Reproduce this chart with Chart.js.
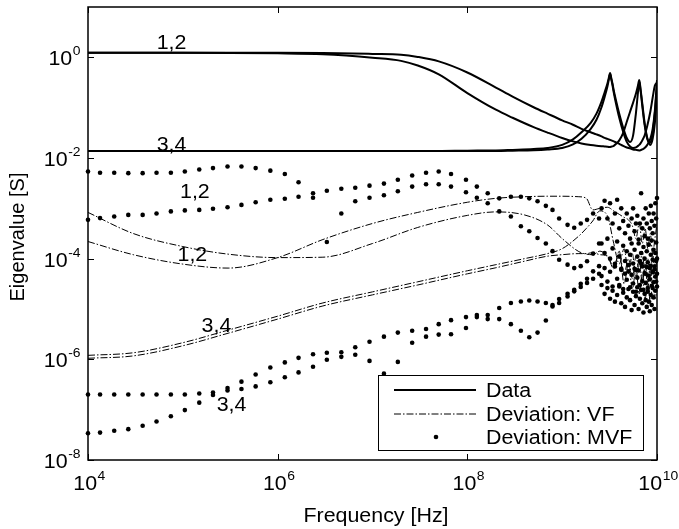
<!DOCTYPE html>
<html>
<head>
<meta charset="utf-8">
<script src="https://cdn.jsdelivr.net/npm/chart.js@4.4.1/dist/chart.umd.min.js"></script>
<style>
  body { margin: 0; background: #fff; }
  #wrap { width: 679px; height: 529px; }
</style>
</head>
<body>
<div id="wrap"><canvas id="eigChart" width="679" height="529"></canvas></div>
<script>
// frequency samples of the measured data (Hz)
const dataFreq = [1e4, 1e5, 1e6, 3e6, 1e7, 2e7, 3e7, 5e7, 1e8, 2e8, 3e8, 5e8, 7e8, 1e9, 1.3e9, 1.6e9,
  2e9, 2.3e9, 2.6e9, 2.8e9, 3.0e9, 3.1e9, 3.2e9, 3.3e9, 3.4e9, 3.5e9, 3.7e9, 4.0e9, 4.4e9, 4.8e9,
  5.2e9, 5.6e9, 6.0e9, 6.3e9, 6.5e9, 6.7e9, 7.0e9, 7.4e9, 7.9e9, 8.5e9, 9.0e9, 9.5e9, 1e10];

// eigenvalues 1,2 and 3,4 of the data (S)
const data1 = [1.23, 1.23, 1.20, 1.15, 0.98, 0.85, 0.69, 0.46, 0.195, 0.091, 0.063, 0.041, 0.032, 0.025, 0.0214, 0.0195,
  0.0182, 0.0176, 0.0172, 0.0170, 0.0168, 0.0166, 0.0166, 0.0168, 0.0170, 0.0174, 0.0191, 0.0224, 0.0316, 0.0525,
  0.083, 0.126, 0.191, 0.275, 0.355, 0.240, 0.120, 0.050, 0.025, 0.0182, 0.024, 0.050, 0.200];
const data2 = [1.23, 1.23, 1.23, 1.22, 1.17, 1.13, 1.02, 0.83, 0.50, 0.251, 0.166, 0.102, 0.076, 0.056, 0.0457, 0.038,
  0.0324, 0.0295, 0.0269, 0.0251, 0.024, 0.0234, 0.0229, 0.0224, 0.0219, 0.0214, 0.0204, 0.0191, 0.0174, 0.0162,
  0.0155, 0.0148, 0.0145, 0.0143, 0.0141, 0.0143, 0.0148, 0.0158, 0.0182, 0.024, 0.038, 0.089, 0.355];
const data3 = [0.0138, 0.0138, 0.0138, 0.0138, 0.0138, 0.0138, 0.0138, 0.0138, 0.0140, 0.0141, 0.0145, 0.0151, 0.0158, 0.0182, 0.0234, 0.0324,
  0.050, 0.076, 0.132, 0.200, 0.302, 0.389, 0.490, 0.380, 0.295, 0.219, 0.138, 0.076, 0.040, 0.025,
  0.0209, 0.0282, 0.079, 0.200, 0.331, 0.224, 0.107, 0.0457, 0.024, 0.020, 0.0316, 0.079, 0.282];
const data4 = [0.0138, 0.0138, 0.0138, 0.0138, 0.0138, 0.0138, 0.0138, 0.0138, 0.0138, 0.0138, 0.0140, 0.0143, 0.0148, 0.0158, 0.0186, 0.024,
  0.038, 0.0575, 0.102, 0.162, 0.263, 0.355, 0.468, 0.363, 0.275, 0.200, 0.120, 0.063, 0.033, 0.0209,
  0.0170, 0.0158, 0.0162, 0.0174, 0.0182, 0.0195, 0.0224, 0.028, 0.0437, 0.083, 0.158, 0.275, 0.316];

// deviation of the VF fit
const vfFreq = [1e4, 3e4, 1e5, 3e5, 1e6, 3e6, 1e7, 3e7, 1e8, 2e8, 4e8, 7e8, 1e9, 1.5e9, 1.8e9, 2.1e9,
  2.5e9, 3e9, 3.5e9, 4e9, 4.5e9, 5e9, 5.5e9, 6e9, 6.5e9, 7e9, 7.5e9, 8e9, 8.5e9, 9e9, 9.5e9, 1e10];
const vf1 = [8.3e-4, 3.16e-4, 1.74e-4, 1.23e-4, 1.05e-4, 1.07e-4, 2.0e-4, 4.17e-4, 7.24e-4, 8.5e-4, 7.4e-4, 4.68e-4, 2.51e-4, 1.38e-4, 1.23e-4, 1.20e-4,
  1.41e-4, 1.12e-4, 7.1e-5, 1.26e-4, 5.0e-5, 1.0e-4, 4.0e-5, 1.12e-4, 5.6e-5, 1.41e-4, 4.5e-5, 1.0e-4, 3.5e-5, 1.26e-4, 5.0e-5, 1.12e-4];
const vf2 = [2.19e-4, 1.20e-4, 7.8e-5, 6.5e-5, 1.05e-4, 2.4e-4, 5.0e-4, 8.3e-4, 1.32e-3, 1.58e-3, 1.70e-3, 1.74e-3, 1.74e-3, 1.70e-3, 1.58e-3, 9.3e-4,
  1.0e-3, 1.05e-3, 8.9e-4, 7.6e-4, 6.6e-4, 5.9e-4, 4.5e-4, 2.5e-4, 5.0e-4, 2.0e-4, 4.0e-4, 1.58e-4, 3.16e-4, 1.26e-4, 2.5e-4, 5.0e-4];
const vf3 = [1.20e-6, 1.35e-6, 2.14e-6, 3.8e-6, 7.2e-6, 1.32e-5, 2.19e-5, 3.47e-5, 5.75e-5, 7.6e-5, 1.0e-4, 1.26e-4, 1.58e-4, 2.82e-4, 4.0e-4, 5.6e-4,
  8.9e-4, 7.1e-4, 2.0e-4, 7.9e-5, 1.58e-4, 5.0e-5, 1.26e-4, 4.0e-5, 1.0e-4, 3.16e-5, 7.9e-5, 2.5e-5, 6.3e-5, 3.16e-5, 1.0e-4, 4.0e-5];
const vf4 = [1.05e-6, 1.17e-6, 1.86e-6, 3.3e-6, 6.3e-6, 1.15e-5, 1.91e-5, 3.0e-5, 5.0e-5, 6.6e-5, 8.9e-5, 1.12e-4, 1.20e-4, 1.26e-4, 1.26e-4, 1.32e-4,
  1.20e-4, 1.12e-4, 6.3e-5, 1.41e-4, 3.16e-5, 7.9e-5, 2.5e-5, 6.3e-5, 2.0e-5, 5.0e-5, 1.58e-5, 4.0e-5, 1.26e-5, 3.16e-5, 1.58e-5, 2.5e-5];

// deviation of the MVF fit, one dot per sample
const mvfFreq = [1.0e4, 1.34e4, 1.89e4, 2.66e4, 3.77e4, 5.28e4, 7.48e4, 1.05e5, 1.49e5, 2.08e5, 2.96e5, 4.15e5, 5.86e5, 8.37e5,
  1.19e6, 1.66e6, 2.36e6, 3.30e6, 4.69e6, 6.58e6, 9.30e6, 1.32e7, 1.85e7, 2.62e7, 3.67e7, 4.99e7, 6.73e7, 9.68e7,
  1.26e8, 1.64e8, 2.17e8, 2.88e8, 3.67e8, 4.50e8, 5.50e8, 6.73e8, 7.91e8, 9.29e8, 1.14e9, 1.34e9, 1.57e9, 1.83e9, 2.12e9, 2.45e9,
  2.6e9, 2.8e9, 3.0e9, 3.2e9, 3.4e9, 3.6e9, 3.8e9, 4.0e9, 4.2e9, 4.4e9, 4.6e9, 4.8e9, 5.0e9, 5.2e9, 5.4e9, 5.6e9, 5.8e9, 6.0e9, 6.2e9,
  6.4e9, 6.6e9, 6.8e9, 7.0e9, 7.2e9, 7.4e9, 7.6e9, 7.8e9, 8.0e9, 8.2e9, 8.4e9, 8.6e9, 8.8e9, 9.0e9, 9.2e9, 9.4e9, 9.6e9, 9.8e9, 1.0e10];
const mvf1 = [5.4e-3, 5.1e-3, 5.1e-3, 5.0e-3, 5.0e-3, 5.1e-3, 5.1e-3, 5.4e-3, 5.9e-3, 6.3e-3, 6.8e-3, 6.8e-3, 6.3e-3, 5.6e-3,
  4.8e-3, 3.3e-3, 2.0e-3, 2.24e-3, 2.45e-3, 2.57e-3, 2.82e-3, 3.1e-3, 3.7e-3, 4.5e-3, 5.1e-3, 5.4e-3, 4.8e-3, 3.7e-3,
  2.7e-3, 2.0e-3, 1.58e-3, 1.70e-3, 1.70e-3, 1.58e-3, 1.38e-3, 1.12e-3, 9.3e-4, 6.3e-4, 4.7e-4, 4.1e-4, 5.0e-4, 5.9e-4, 7.9e-4, 6.3e-4,
  1.0e-3, 1.41e-3, 6.3e-4, 1.26e-3, 5.0e-4, 7.9e-4, 1.48e-3, 4.0e-4, 1.0e-3, 5.6e-4, 3.2e-4, 7.9e-4, 4.5e-4, 2.5e-4, 6.3e-4, 1.0e-3, 3.5e-4, 5.0e-4, 7.1e-4,
  2.0e-4, 5.0e-4, 2.0e-3, 4.0e-4, 6.3e-4, 2.8e-4, 1.0e-3, 5.0e-4, 2.5e-4, 7.9e-4, 4.0e-4, 1.12e-3, 5.6e-4, 3.2e-4, 7.9e-4, 4.5e-4, 1.26e-3, 6.3e-4, 1.6e-3];
const mvf2 = [5.9e-4, 6.4e-4, 6.9e-4, 7.4e-4, 7.4e-4, 7.9e-4, 8.7e-4, 9.1e-4, 9.3e-4, 9.8e-4, 1.05e-3, 1.17e-3, 1.32e-3, 1.48e-3,
  1.55e-3, 1.70e-3, 1.62e-3, 2.14e-4, 7.9e-4, 1.38e-3, 1.62e-3, 1.82e-3, 2.19e-3, 2.7e-3, 3.0e-3, 3.0e-3, 2.7e-3, 2.09e-3,
  1.62e-3, 1.26e-3, 8.7e-4, 6.9e-4, 4.4e-4, 3.5e-4, 2.57e-4, 2.0e-4, 1.41e-4, 9.5e-5, 7.6e-5, 6.5e-5, 7.1e-5, 8.9e-5, 1.26e-4, 2.0e-4,
  2.0e-4, 1.3e-4, 2.5e-4, 1.0e-4, 1.6e-4, 7.9e-5, 2.2e-4, 1.1e-4, 6.3e-5, 1.8e-4, 9.0e-5, 1.4e-4, 5.6e-5, 1.2e-4, 2.0e-4, 8.0e-5, 1.5e-4, 6.0e-5, 1.1e-4,
  2.4e-4, 9.0e-5, 1.3e-4, 7.0e-5, 1.7e-4, 1.0e-4, 5.0e-5, 1.4e-4, 8.5e-5, 1.9e-4, 6.5e-5, 1.2e-4, 2.3e-4, 9.5e-5, 1.5e-4, 7.0e-5, 1.3e-4, 2.1e-4, 1.0e-4];
const mvf3 = [2.0e-7, 2.0e-7, 2.0e-7, 2.0e-7, 2.0e-7, 2.0e-7, 2.0e-7, 2.0e-7, 2.1e-7, 2.2e-7, 2.7e-7, 3.6e-7, 5.0e-7, 6.9e-7,
  8.7e-7, 1.07e-6, 1.26e-6, 1.35e-6, 1.38e-6, 1.74e-6, 2.24e-6, 2.82e-6, 3.4e-6, 3.7e-6, 4.0e-6, 5.0e-6, 6.0e-6, 6.9e-6,
  7.6e-6, 7.6e-6, 1.05e-5, 1.32e-5, 1.41e-5, 1.48e-5, 1.41e-5, 1.32e-5, 1.20e-5, 1.32e-5, 1.78e-5, 2.24e-5, 3.16e-5, 4.0e-5, 5.6e-5, 7.1e-5,
  4.5e-5, 6.5e-5, 3.5e-5, 5.5e-5, 2.8e-5, 7.0e-5, 4.0e-5, 3.0e-5, 6.0e-5, 2.5e-5, 5.0e-5, 3.8e-5, 7.5e-5, 2.7e-5, 4.8e-5, 3.2e-5, 6.3e-5, 2.2e-5, 4.2e-5,
  5.8e-5, 3.0e-5, 8.0e-5, 3.6e-5, 2.4e-5, 5.2e-5, 3.3e-5, 6.8e-5, 2.6e-5, 4.6e-5, 3.9e-5, 7.2e-5, 2.9e-5, 5.4e-5, 3.4e-5, 6.1e-5, 4.4e-5, 9.0e-5, 5.0e-5];
const mvf4 = [3.4e-8, 3.5e-8, 3.8e-8, 4.1e-8, 4.8e-8, 5.8e-8, 7.4e-8, 9.8e-8, 1.38e-7, 1.95e-7, 2.4e-7, 2.57e-7, 2.9e-7, 3.5e-7,
  4.4e-7, 5.5e-7, 7.1e-7, 9.8e-7, 1.12e-6, 1.23e-6, 9.3e-7, 5.2e-7, 8.9e-7, 2.14e-6, 2.82e-6, 3.1e-6, 3.16e-6, 4.2e-6,
  6.9e-6, 6.3e-6, 6.3e-6, 5.0e-6, 3.7e-6, 2.75e-6, 3.4e-6, 5.9e-6, 1.12e-5, 1.58e-5, 2.0e-5, 2.4e-5, 2.75e-5, 3.3e-5, 4.0e-5, 5.0e-5,
  3.0e-5, 2.0e-5, 2.6e-5, 1.6e-5, 2.3e-5, 1.4e-5, 1.9e-5, 2.8e-5, 1.3e-5, 2.1e-5, 1.1e-5, 1.7e-5, 2.5e-5, 1.5e-5, 9.5e-6, 2.2e-5, 1.2e-5, 1.8e-5, 2.7e-5,
  1.0e-5, 1.6e-5, 2.4e-5, 1.3e-5, 8.5e-6, 2.0e-5, 1.5e-5, 1.1e-5, 2.2e-5, 1.4e-5, 9.0e-6, 1.9e-5, 1.2e-5, 2.6e-5, 1.7e-5, 1.0e-5, 2.3e-5, 3.5e-5, 2.8e-5];

// axis ticks and curve labels
const xTicks = [1e4, 1e6, 1e8, 1e10];
const xTickExp = ['4', '6', '8', '10'];
const yTicks = [1, 1e-2, 1e-4, 1e-6, 1e-8];
const yTickExp = ['0', '-2', '-4', '-6', '-8'];
const labelText = ['1,2', '3,4', '1,2', '1,2', '3,4', '3,4'];
const labelFreq = [7.6e4, 7.6e4, 1.34e5, 1.26e5, 2.26e5, 3.26e5];
const labelValue = [2.0, 1.87e-2, 2.25e-3, 1.23e-4, 4.83e-6, 1.27e-7];
const legendItems = ['Data', 'Deviation: VF', 'Deviation: MVF'];

const FONT = '"Liberation Sans", Arial, sans-serif';
const VF_DASH = [7, 2, 1.5, 2];
const STRETCH = 1.07; // the source figure is a little wider than tall

function pairs(xs, ys) {
    return xs.map((x, i) => ({ x: x, y: ys[i] }));
}

function dataLine(ys) {
    return { data: pairs(dataFreq, ys), showLine: true, borderColor: '#000', borderWidth: 2,
        pointRadius: 0, cubicInterpolationMode: 'monotone' };
}

function vfLine(ys) {
    return { data: pairs(vfFreq, ys), showLine: true, borderColor: '#000', borderWidth: 1,
        borderDash: VF_DASH, pointRadius: 0, cubicInterpolationMode: 'monotone' };
}

function mvfDots(ys) {
    return { data: pairs(mvfFreq, ys), showLine: false, pointRadius: 2.3, pointBorderWidth: 0,
        pointBackgroundColor: '#000', clip: false };
}

function measure(ctx, t, size) {
    ctx.font = size + 'px ' + FONT;
    return ctx.measureText(t).width * STRETCH;
}

// text drawn from its left end, stretched horizontally
function text(ctx, t, size, left, baseY) {
    ctx.save();
    ctx.font = size + 'px ' + FONT;
    ctx.textAlign = 'left';
    ctx.textBaseline = 'alphabetic';
    ctx.translate(left, baseY);
    ctx.scale(STRETCH, 1);
    ctx.fillText(t, 0, 0);
    ctx.restore();
}

function drawPower(ctx, exp, px, baseY, align) {
    const wBase = measure(ctx, '10', 20);
    const wExp = measure(ctx, exp, 13);
    const left = align === 'center' ? px - (wBase + wExp) / 2 : px - wBase - wExp;
    text(ctx, '10', 20, left, baseY);
    text(ctx, exp, 13, left + wBase + 0.5, baseY - 10);
}

const decorations = {
    id: 'decorations',
    afterDatasetsDraw(chart) {
        const { ctx, chartArea: a, scales: { x, y } } = chart;
        ctx.save();
        ctx.fillStyle = '#000';
        ctx.strokeStyle = '#000';

        // curve labels
        labelText.forEach((t, i) => {
            const w = measure(ctx, t, 20);
            text(ctx, t, 20, x.getPixelForValue(labelFreq[i]) - w / 2, y.getPixelForValue(labelValue[i]) + 7);
        });

        // frame and inward ticks
        ctx.lineWidth = 1.5;
        ctx.strokeRect(a.left, a.top, a.right - a.left, a.bottom - a.top);
        ctx.lineWidth = 1;
        ctx.beginPath();
        xTicks.forEach(v => {
            const px = Math.round(x.getPixelForValue(v)) + 0.5;
            ctx.moveTo(px, a.bottom); ctx.lineTo(px, a.bottom - 6);
            ctx.moveTo(px, a.top); ctx.lineTo(px, a.top + 6);
        });
        yTicks.forEach(v => {
            const py = Math.round(y.getPixelForValue(v)) + 0.5;
            ctx.moveTo(a.left, py); ctx.lineTo(a.left + 6, py);
            ctx.moveTo(a.right, py); ctx.lineTo(a.right - 6, py);
        });
        ctx.stroke();

        // tick labels
        xTicks.forEach((v, i) => drawPower(ctx, xTickExp[i], x.getPixelForValue(v) + 1, a.bottom + 30, 'center'));
        yTicks.forEach((v, i) => drawPower(ctx, yTickExp[i], a.left - 8, y.getPixelForValue(v) + 8, 'right'));

        // axis titles
        const xt = 'Frequency [Hz]';
        text(ctx, xt, 20, 376 - measure(ctx, xt, 20) / 2, 522);
        ctx.save();
        ctx.translate(24, 237);
        ctx.rotate(-Math.PI / 2);
        ctx.font = '20px ' + FONT;
        ctx.textAlign = 'center';
        ctx.fillText('Eigenvalue [S]', 0, 0);
        ctx.restore();

        // legend box
        const bx = 378, by = 375, bw = 265, bh = 75;
        ctx.fillStyle = '#fff';
        ctx.fillRect(bx, by, bw, bh);
        ctx.lineWidth = 1;
        ctx.strokeRect(bx + 0.5, by + 0.5, bw, bh);
        ctx.fillStyle = '#000';
        const rows = [390, 413.5, 437];
        ctx.beginPath();
        ctx.lineWidth = 2;
        ctx.moveTo(394, rows[0]); ctx.lineTo(476, rows[0]);
        ctx.stroke();
        ctx.beginPath();
        ctx.lineWidth = 1;
        ctx.setLineDash(VF_DASH);
        ctx.moveTo(394, rows[1] + 0.5); ctx.lineTo(476, rows[1] + 0.5);
        ctx.stroke();
        ctx.setLineDash([]);
        ctx.beginPath();
        ctx.arc(436, rows[2], 2.3, 0, Math.PI * 2);
        ctx.fill();
        legendItems.forEach((t, i) => text(ctx, t, 20, 486, rows[i] + 7));
        ctx.restore();
    }
};

new Chart(document.getElementById('eigChart').getContext('2d'), {
    type: 'scatter',
    data: {
        datasets: [
            dataLine(data1), dataLine(data2), dataLine(data3), dataLine(data4),
            vfLine(vf1), vfLine(vf2), vfLine(vf3), vfLine(vf4),
            mvfDots(mvf1), mvfDots(mvf2), mvfDots(mvf3), mvfDots(mvf4)
        ]
    },
    options: {
        responsive: false,
        animation: false,
        layout: { padding: { left: 88, top: 7, right: 22, bottom: 69 } },
        scales: {
            x: { type: 'logarithmic', min: 1e4, max: 1e10, display: false },
            y: { type: 'logarithmic', min: 1e-8, max: 10, display: false }
        },
        plugins: {
            legend: { display: false },
            tooltip: { enabled: false }
        }
    },
    plugins: [decorations]
});
</script>
</body>
</html>
